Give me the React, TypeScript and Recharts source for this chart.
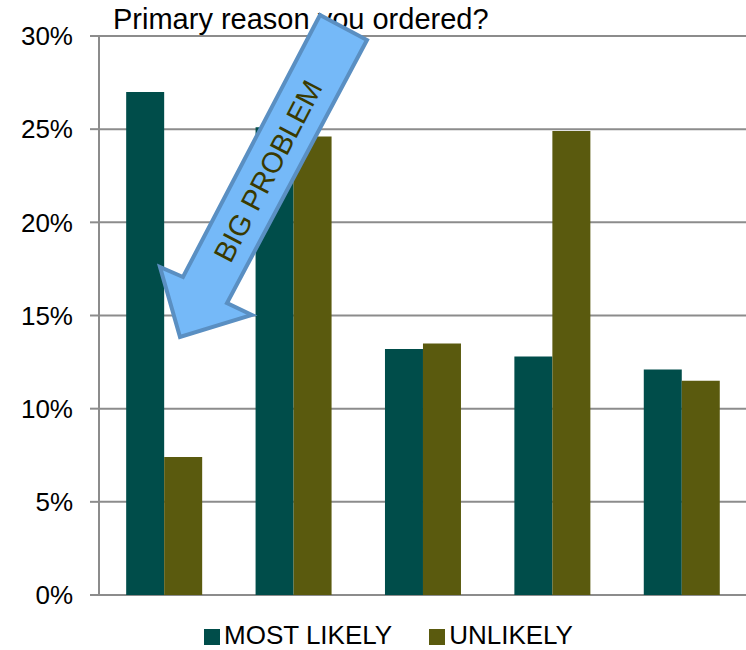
import { BarChart, Bar, XAxis, YAxis, CartesianGrid, Legend } from 'recharts'

const categories = ['Q1', 'Q2', 'Q3', 'Q4', 'Q5']
const mostLikely = [27.0, 25.1, 13.2, 12.8, 12.1]
const unlikely = [7.4, 24.6, 13.5, 24.9, 11.5]
const yTicks = [0, 5, 10, 15, 20, 25, 30]

const data = categories.map((c, i) => ({ name: c, most: mostLikely[i], unlikely: unlikely[i] }))

const FONT = '"Liberation Sans", Arial, sans-serif'
const GRID = '#8C8C8C'

export default function App() {
  return (
    <div style={{ position: 'absolute', left: 0, top: 0, width: 746, height: 650, fontFamily: FONT, background: '#fff' }}>
      <BarChart
        width={746} height={650} data={data}
        margin={{ top: 36, right: 0, left: 0, bottom: 0 }}
        barCategoryGap="21%" barGap={0}
      >
        <CartesianGrid vertical={false} stroke={GRID} strokeWidth={2} />
        <XAxis dataKey="name" hide />
        <YAxis
          width={99} domain={[0, 30]} ticks={yTicks} interval={0}
          tickFormatter={(v: number) => `${v}%`}
          tick={{ fill: '#000', fontSize: 26, fontFamily: FONT }}
          tickSize={9} tickMargin={17}
          stroke={GRID} strokeWidth={2}
        />
        <Legend
          verticalAlign="bottom" iconType="square" iconSize={16}
          wrapperStyle={{ paddingTop: 25, paddingLeft: 34, fontFamily: FONT, fontSize: 26, lineHeight: '30px' }}
          formatter={(v: string) => <span style={{ color: '#000', marginRight: 27 }}>{v}</span>}
        />
        <Bar dataKey="most" name="MOST LIKELY" fill="#004D4A" isAnimationActive={false} />
        <Bar dataKey="unlikely" name="UNLIKELY" fill="#5A5A0E" isAnimationActive={false} />
      </BarChart>
      <div style={{ position: 'absolute', left: 113, top: 3, fontSize: 29, color: '#000', fontFamily: FONT, whiteSpace: 'nowrap' }}>
        Primary reason you ordered?
      </div>
      <svg width={746} height={650} style={{ position: 'absolute', left: 0, top: 0, pointerEvents: 'none' }}>
        <polygon
          points="320,15 367,40 227,303 252,315 180,337 160,267 183,277"
          fill="#75B9F8" stroke="#5A8FC2" strokeWidth={4} strokeLinejoin="miter"
        />
        <text
          x={268} y={171} transform="rotate(-62.4 268 171)"
          textAnchor="middle" dominantBaseline="central"
          fill="#3A3A00" fontSize={29} fontFamily={FONT}
        >
          BIG PROBLEM
        </text>
      </svg>
    </div>
  )
}
